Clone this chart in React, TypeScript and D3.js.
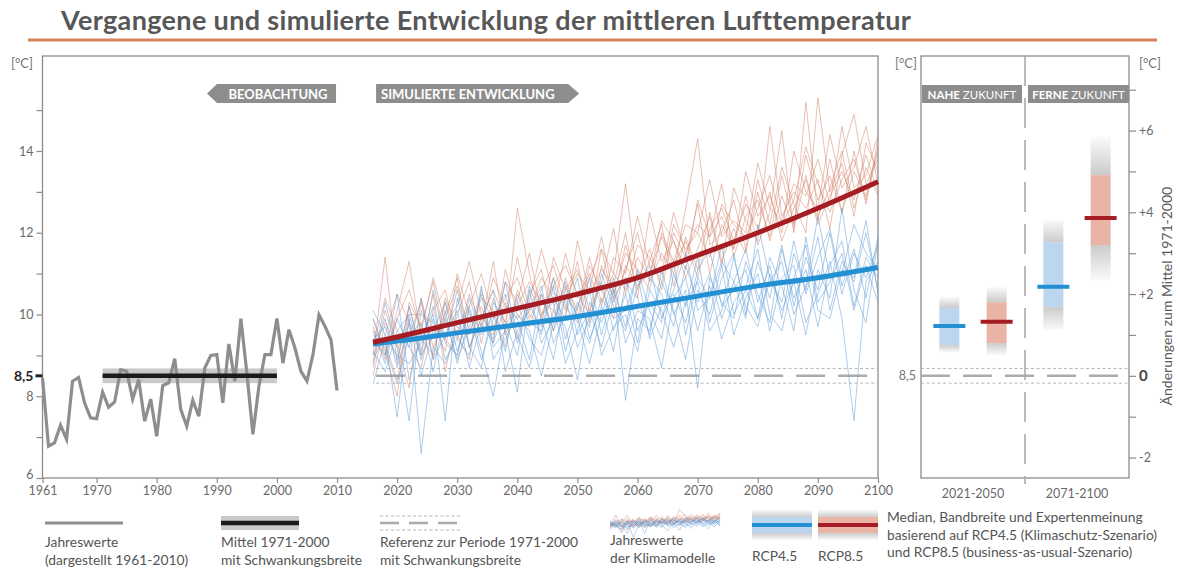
import { useEffect, useRef } from "react";
import * as d3 from "d3";

// observed annual means (1961-2010)
const obsYears = d3.range(1961, 2011);
const obsValues = [
  8.45, 6.78, 6.86, 7.29, 6.95, 8.37, 8.46, 7.84, 7.47, 7.45,
  8.1, 7.73, 7.86, 8.65, 8.61, 7.93, 8.41, 7.39, 7.93, 7.02,
  8.26, 8.33, 8.92, 7.68, 7.27, 7.9, 7.51, 8.69, 9.0, 9.02,
  7.84, 9.28, 8.37, 9.9, 8.57, 7.07, 8.24, 9.02, 9.02, 9.9,
  8.81, 9.63, 9.18, 8.61, 8.37, 9.02, 9.99, 9.71, 9.38, 8.14
];

const meanPeriod = [1971, 2000];
const refMean = 8.5;
const refSpread = 0.18;

// climate model runs, every 2nd year
const simYears = d3.range(2016, 2101, 2);
const rcp45Runs = [
  [9.0, 9.9, 8.7, 9.8, 8.5, 9.6, 10.3, 9.1, 10.1, 8.9, 9.9, 10.5, 9.3, 10.3, 9.5, 10.7, 9.1, 10.2, 10.9, 9.5, 10.6, 9.7, 11.1, 10.1, 9.4, 11.0, 10.2, 11.4, 9.8, 10.9, 11.5, 10.0, 11.3, 10.4, 11.7, 10.2, 11.4, 10.6, 12.0, 10.5, 11.5, 10.9, 11.7],
  [9.6, 8.8, 9.9, 9.2, 10.4, 8.9, 9.5, 10.1, 8.7, 9.8, 9.3, 10.2, 9.9, 8.9, 10.5, 9.6, 10.4, 9.2, 9.9, 10.8, 9.6, 10.5, 9.3, 10.9, 10.5, 9.7, 11.2, 10.3, 11.0, 9.9, 10.8, 11.6, 10.3, 11.2, 9.9, 11.5, 10.6, 11.9, 10.1, 11.3, 10.8, 12.0, 10.6],
  [8.3, 9.4, 7.5, 9.9, 6.6, 9.2, 8.8, 9.6, 10.2, 9.1, 8.0, 9.7, 10.3, 9.4, 9.0, 10.1, 9.7, 8.4, 10.3, 9.8, 10.7, 7.9, 9.9, 9.6, 10.8, 10.1, 8.9, 10.6, 10.0, 11.2, 9.5, 10.4, 11.0, 9.6, 10.9, 11.2, 9.8, 10.5, 11.3, 9.9, 7.4, 10.8, 11.3],
  [9.9, 9.0, 10.5, 8.4, 9.5, 10.0, 7.4, 10.4, 9.2, 9.9, 10.6, 8.6, 9.6, 10.1, 10.7, 9.3, 10.0, 10.9, 9.4, 10.2, 9.1, 10.8, 10.4, 9.5, 11.1, 10.0, 10.6, 8.2, 10.9, 10.3, 9.9, 11.3, 10.5, 9.8, 11.6, 10.4, 11.1, 9.7, 11.2, 11.8, 10.2, 11.4, 10.9],
  [8.8, 10.3, 9.2, 7.4, 10.1, 9.4, 9.9, 8.9, 9.7, 10.5, 9.2, 9.6, 8.1, 10.6, 9.3, 9.9, 10.8, 9.5, 10.1, 9.2, 10.4, 10.9, 9.6, 10.3, 9.8, 11.3, 9.5, 10.9, 10.4, 11.7, 10.0, 10.6, 9.9, 11.4, 10.7, 9.6, 11.9, 10.3, 10.8, 11.5, 10.1, 11.2, 10.3],
  [9.4, 9.7, 8.9, 10.2, 9.0, 10.6, 9.3, 9.0, 10.4, 9.5, 10.0, 9.1, 10.5, 9.8, 9.6, 10.9, 9.4, 10.3, 9.7, 11.0, 10.2, 9.6, 10.7, 11.2, 9.9, 10.6, 11.5, 10.1, 10.4, 11.3, 10.8, 9.9, 12.2, 10.9, 10.3, 11.8, 10.5, 11.4, 12.1, 10.7, 11.6, 10.4, 11.9],
  [9.1, 8.6, 9.6, 10.0, 8.9, 9.9, 9.4, 10.6, 9.2, 8.7, 10.3, 9.8, 9.0, 10.7, 9.9, 8.9, 10.5, 10.0, 9.3, 10.4, 9.9, 10.1, 11.0, 9.4, 10.2, 10.5, 9.8, 11.1, 11.6, 10.2, 10.6, 11.1, 9.9, 10.8, 11.3, 10.0, 10.7, 12.4, 10.9, 11.0, 12.2, 11.5, 11.1],
  [9.5, 9.2, 8.3, 9.5, 9.8, 8.6, 10.1, 8.8, 9.9, 10.0, 9.4, 10.8, 9.5, 8.7, 10.0, 10.3, 8.8, 9.6, 10.6, 9.0, 9.7, 10.0, 9.1, 10.6, 10.1, 9.2, 10.3, 10.8, 9.6, 10.1, 11.4, 10.2, 9.7, 11.0, 10.1, 10.8, 9.5, 11.1, 10.4, 12.6, 10.6, 9.8, 11.8],
  [10.1, 9.5, 9.0, 8.8, 9.3, 10.2, 8.9, 9.4, 9.0, 10.7, 8.9, 9.4, 10.0, 9.6, 8.5, 9.8, 10.6, 9.9, 8.8, 10.0, 10.9, 9.3, 10.1, 9.9, 8.7, 10.4, 10.9, 9.6, 10.7, 9.4, 10.3, 10.7, 11.6, 10.0, 9.6, 10.9, 11.7, 10.1, 9.9, 11.1, 10.9, 12.3, 10.5]
];
const rcp85Runs = [
  [9.0, 11.4, 8.8, 10.2, 9.1, 10.5, 8.6, 10.0, 10.8, 9.3, 10.4, 9.6, 12.6, 11.0, 9.9, 10.9, 10.1, 11.3, 9.8, 11.2, 10.4, 11.7, 10.6, 11.3, 12.2, 10.7, 11.9, 11.1, 12.5, 11.3, 12.1, 11.5, 13.0, 11.8, 12.9, 12.1, 13.4, 12.3, 13.8, 12.5, 13.5, 12.9, 14.1],
  [9.7, 8.9, 10.1, 11.3, 9.4, 9.0, 10.3, 9.5, 8.9, 10.6, 9.7, 10.3, 9.4, 10.5, 11.1, 9.8, 10.7, 10.1, 11.4, 10.3, 11.0, 13.2, 10.8, 11.6, 10.6, 12.0, 11.4, 12.7, 11.0, 12.2, 11.6, 12.9, 11.7, 12.5, 14.5, 12.0, 15.2, 12.4, 13.1, 14.0, 12.6, 13.6, 12.9],
  [8.5, 9.8, 9.3, 8.2, 10.4, 9.2, 9.9, 10.7, 9.6, 10.2, 9.3, 11.1, 10.0, 9.7, 10.6, 11.2, 10.2, 9.8, 10.9, 11.6, 10.3, 11.1, 12.0, 10.8, 11.5, 11.0, 12.6, 14.3, 11.7, 12.0, 12.8, 11.6, 13.3, 12.2, 13.6, 12.7, 12.0, 15.3, 13.0, 13.7, 12.4, 14.2, 13.5],
  [9.9, 9.1, 8.0, 10.3, 9.7, 10.8, 9.4, 9.0, 10.2, 11.0, 9.9, 10.4, 10.9, 10.0, 9.7, 11.4, 10.6, 11.1, 10.1, 10.8, 12.1, 10.5, 11.4, 10.9, 12.3, 11.8, 10.9, 11.6, 12.4, 11.2, 13.1, 12.3, 11.8, 14.6, 12.4, 13.0, 12.6, 13.3, 12.1, 13.9, 14.9, 13.2, 13.8],
  [9.2, 10.4, 9.6, 9.2, 8.7, 10.1, 10.6, 9.4, 10.5, 9.7, 11.3, 9.5, 10.2, 10.8, 10.3, 10.1, 11.5, 10.4, 11.0, 10.2, 11.4, 11.0, 12.4, 11.2, 11.0, 12.5, 11.5, 12.2, 11.9, 13.2, 11.4, 12.4, 12.8, 11.9, 13.4, 12.2, 13.9, 12.8, 13.4, 12.5, 14.0, 12.7, 14.3],
  [8.9, 9.5, 10.5, 9.8, 9.0, 9.5, 10.0, 10.9, 9.2, 9.9, 10.6, 9.8, 11.4, 10.1, 10.9, 10.4, 9.9, 11.8, 10.5, 11.1, 10.7, 12.0, 10.4, 12.5, 11.3, 11.8, 11.1, 12.8, 11.9, 12.4, 11.6, 13.5, 12.4, 12.9, 12.0, 14.0, 13.0, 12.6, 14.4, 13.1, 13.6, 14.6, 13.2],
  [9.4, 9.0, 9.9, 10.6, 9.6, 10.9, 9.8, 10.2, 11.3, 10.0, 9.5, 10.8, 10.3, 11.5, 10.0, 10.7, 11.2, 10.5, 10.0, 11.6, 11.0, 10.6, 11.7, 11.4, 10.8, 12.2, 11.6, 12.0, 13.3, 11.9, 12.3, 12.0, 13.7, 12.6, 12.3, 13.2, 12.9, 13.8, 12.7, 14.6, 13.1, 13.4, 14.4],
  [8.7, 10.1, 9.2, 9.5, 10.3, 8.9, 10.4, 9.7, 9.5, 10.4, 10.1, 9.2, 10.6, 9.9, 10.5, 9.6, 10.9, 9.9, 11.2, 10.6, 9.9, 11.2, 10.7, 11.0, 11.9, 11.2, 11.8, 10.9, 12.1, 12.6, 11.8, 12.7, 12.1, 13.0, 11.8, 12.6, 13.3, 12.2, 12.9, 13.5, 12.8, 13.9, 13.0],
  [9.6, 9.3, 8.4, 10.0, 10.0, 9.8, 9.1, 11.0, 10.0, 9.6, 10.9, 10.2, 9.9, 10.3, 11.6, 10.5, 10.4, 11.0, 10.6, 11.9, 10.5, 11.5, 11.1, 10.6, 12.0, 11.3, 12.2, 12.0, 11.4, 12.7, 12.2, 11.9, 12.6, 13.4, 12.2, 12.8, 14.1, 13.2, 12.5, 13.3, 13.8, 12.8, 14.0]
];

// ensemble medians
const medianYears = [2016, 2020, 2030, 2040, 2050, 2060, 2070, 2080, 2090, 2100];
const rcp45Median = [9.28, 9.35, 9.55, 9.75, 9.95, 10.2, 10.45, 10.7, 10.9, 11.15];
const rcp85Median = [9.32, 9.45, 9.8, 10.15, 10.5, 10.9, 11.45, 12.0, 12.6, 13.25];

// change vs 1971-2000: [expert low, band low, median, band high, expert high]
const periods = ["2021-2050", "2071-2100"];
const scenarios = ["RCP4.5", "RCP8.5"];
const rcp45Change = [[0.58, 0.75, 1.22, 1.66, 1.93], [1.12, 1.68, 2.18, 3.27, 3.81]];
const rcp85Change = [[0.51, 0.8, 1.32, 1.8, 2.17], [2.34, 3.2, 3.86, 4.91, 5.84]];

const yTickLabels = [6, 8, 10, 12, 14];
const xTickYears = [1961, 1970, 1980, 1990, 2000, 2010, 2020, 2030, 2040, 2050, 2060, 2070, 2080, 2090, 2100];
const changeTickLabels = [-2, 0, 2, 4, 6];

const FONT = "Lato, 'Open Sans', sans-serif";
const C45 = { run: "#5b9bd8", band: "#bdd6ef", median: "#2290d2" };
const C85 = { run: "#d4846a", band: "#e9b4a5", median: "#a51c22" };

export default function App() {
  const ref = useRef(null);

  useEffect(() => {
    const svg = d3.select(ref.current);
    svg.selectAll("*").remove();

    const width = 1180;
    const height = 568;
    svg.attr("width", width).attr("height", height).style("font-family", FONT);

    const x = d3.scaleLinear().domain([1961, 2100]).range([42.5, 878]);
    const y = d3.scaleLinear().domain([6, 14]).range([478, 151]);
    const yC = d3.scaleLinear().domain([-2.5, 5.5]).range([478, 151]);
    const top = 56;
    const bottom = y(6);

    const defs = svg.append("defs");
    const gTop = defs.append("linearGradient").attr("id", "fadeTop")
      .attr("x1", 0).attr("y1", 0).attr("x2", 0).attr("y2", 1);
    gTop.append("stop").attr("offset", 0).attr("stop-color", "#cbcbcb").attr("stop-opacity", 0.1);
    gTop.append("stop").attr("offset", 1).attr("stop-color", "#cbcbcb").attr("stop-opacity", 1);
    const gBot = defs.append("linearGradient").attr("id", "fadeBot")
      .attr("x1", 0).attr("y1", 0).attr("x2", 0).attr("y2", 1);
    gBot.append("stop").attr("offset", 0).attr("stop-color", "#cbcbcb").attr("stop-opacity", 1);
    gBot.append("stop").attr("offset", 1).attr("stop-color", "#cbcbcb").attr("stop-opacity", 0.1);

    // title
    svg.append("text")
      .attr("x", 61).attr("y", 30)
      .attr("font-size", 27).attr("font-weight", 700).attr("fill", "#575757")
      .attr("letter-spacing", 0.35)
      .text("Vergangene und simulierte Entwicklung der mittleren Lufttemperatur");
    svg.append("line")
      .attr("x1", 28).attr("x2", 1157).attr("y1", 40).attr("y2", 40)
      .attr("stroke", "#d9825f").attr("stroke-width", 3);

    // ---------- left panel ----------
    svg.append("rect")
      .attr("x", x(1961)).attr("y", top)
      .attr("width", x(2100) - x(1961)).attr("height", bottom - top)
      .attr("fill", "none").attr("stroke", "#8c8c8c").attr("stroke-width", 1.3);

    const yAxis = svg.append("g")
      .attr("transform", `translate(${x(1961)},0)`)
      .call(d3.axisLeft(y).tickValues(d3.range(6, 16)).tickSize(6)
        .tickFormat(d => (yTickLabels.includes(d) ? String(d) : "")));
    yAxis.select(".domain").remove();
    yAxis.selectAll("line").attr("stroke", "#8c8c8c").attr("stroke-width", 1.2);
    yAxis.selectAll("text").attr("fill", "#6a6a6a").attr("font-size", 12.5).attr("font-family", FONT)
      .filter(d => d === 6).attr("dy", "0.05em");

    svg.append("line")
      .attr("x1", x(1961) - 7).attr("x2", x(1961)).attr("y1", y(refMean)).attr("y2", y(refMean))
      .attr("stroke", "#222").attr("stroke-width", 3);
    svg.append("text")
      .attr("x", x(1961) - 9).attr("y", y(refMean)).attr("dy", "0.35em")
      .attr("text-anchor", "end").attr("font-size", 14).attr("font-weight", 700).attr("fill", "#222")
      .text("8,5");

    const xAxis = svg.append("g")
      .attr("transform", `translate(0,${bottom})`)
      .call(d3.axisBottom(x).tickValues(xTickYears).tickSize(5).tickFormat(d3.format("d")));
    xAxis.select(".domain").remove();
    xAxis.selectAll("line").attr("stroke", "#8c8c8c").attr("stroke-width", 1.2);
    xAxis.selectAll("text").attr("fill", "#6a6a6a").attr("font-size", 12.5).attr("font-family", FONT);

    svg.append("text").attr("x", 11).attr("y", 68)
      .attr("font-size", 13).attr("fill", "#777").text("[°C]");

    // period arrows
    const obsRight = x(2010) - 1;
    svg.append("polygon")
      .attr("points", [[obsRight - 129, 93.5], [obsRight - 119, 84], [obsRight, 84], [obsRight, 103], [obsRight - 119, 103]].join(" "))
      .attr("fill", "#8d8d8d");
    svg.append("text")
      .attr("x", obsRight - 58).attr("y", 98.5).attr("text-anchor", "middle")
      .attr("font-size", 13).attr("font-weight", 700).attr("fill", "#fff")
      .text("BEOBACHTUNG");
    const simLeft = x(2016.5);
    svg.append("polygon")
      .attr("points", [[simLeft, 84], [simLeft + 192, 84], [simLeft + 203, 93.5], [simLeft + 192, 103], [simLeft, 103]].join(" "))
      .attr("fill", "#8d8d8d");
    svg.append("text")
      .attr("x", simLeft + 5).attr("y", 98.5)
      .attr("font-size", 13).attr("font-weight", 700).attr("fill", "#fff")
      .text("SIMULIERTE ENTWICKLUNG");

    // mean 1971-2000 with spread
    svg.append("rect")
      .attr("x", x(meanPeriod[0])).attr("y", y(refMean + refSpread))
      .attr("width", x(meanPeriod[1]) - x(meanPeriod[0]))
      .attr("height", y(refMean - refSpread) - y(refMean + refSpread))
      .attr("fill", "#c9c9c9");

    // observed series
    const obsLine = d3.line().x((d, i) => x(obsYears[i])).y(d => y(d));
    svg.append("path")
      .datum(obsValues)
      .attr("d", obsLine)
      .attr("fill", "none").attr("stroke", "#8e8e8e").attr("stroke-width", 3.2);

    svg.append("line")
      .attr("x1", x(meanPeriod[0])).attr("x2", x(meanPeriod[1]))
      .attr("y1", y(refMean)).attr("y2", y(refMean))
      .attr("stroke", "#1b1b1b").attr("stroke-width", 4.5);

    // reference lines (simulation part)
    const drawRef = (x1, x2, yScale, base) => {
      [base + refSpread, base - refSpread].forEach(v => {
        svg.append("line")
          .attr("x1", x1).attr("x2", x2).attr("y1", yScale(v)).attr("y2", yScale(v))
          .attr("stroke", "#b5b5b5").attr("stroke-width", 1).attr("stroke-dasharray", "3,2.5");
      });
      svg.append("line")
        .attr("x1", x1).attr("x2", x2).attr("y1", yScale(base)).attr("y2", yScale(base))
        .attr("stroke", "#ababab").attr("stroke-width", 2.6).attr("stroke-dasharray", "29,13");
    };
    drawRef(simLeft, x(2100), y, refMean);

    // model runs
    const runLine = d3.line().x((d, i) => x(simYears[i])).y(d => y(d));
    rcp85Runs.forEach(run => {
      svg.append("path").datum(run).attr("d", runLine)
        .attr("fill", "none").attr("stroke", C85.run).attr("stroke-width", 1)
        .attr("stroke-opacity", 0.5);
    });
    rcp45Runs.forEach(run => {
      svg.append("path").datum(run).attr("d", runLine)
        .attr("fill", "none").attr("stroke", C45.run).attr("stroke-width", 1)
        .attr("stroke-opacity", 0.5);
    });

    const medLine = d3.line().curve(d3.curveMonotoneX)
      .x((d, i) => x(medianYears[i])).y(d => y(d));
    svg.append("path").datum(rcp45Median).attr("d", medLine)
      .attr("fill", "none").attr("stroke", C45.median).attr("stroke-width", 5);
    svg.append("path").datum(rcp85Median).attr("d", medLine)
      .attr("fill", "none").attr("stroke", C85.median).attr("stroke-width", 5);

    // ---------- right panel ----------
    const rL = 921;
    const rR = 1129;
    const xPeriod = d3.scaleBand().domain(periods).range([rL, rR]);
    const xScen = d3.scalePoint().domain(scenarios).range([0, xPeriod.bandwidth()]).padding(0.6);

    svg.append("rect")
      .attr("x", rL).attr("y", top).attr("width", rR - rL).attr("height", bottom - top)
      .attr("fill", "none").attr("stroke", "#8c8c8c").attr("stroke-width", 1.3);

    svg.append("line")
      .attr("x1", xPeriod(periods[1])).attr("x2", xPeriod(periods[1]))
      .attr("y1", top).attr("y2", bottom + 6)
      .attr("stroke", "#ababab").attr("stroke-width", 1.6).attr("stroke-dasharray", "30,12");

    drawRef(rL, rR, yC, 0);

    periods.forEach((p, i) => {
      const x0 = xPeriod(p) + (i === 0 ? 1 : 3);
      const x1 = xPeriod(p) + xPeriod.bandwidth() - (i === 0 ? 3 : 0);
      svg.append("rect")
        .attr("x", x0).attr("y", 85).attr("width", x1 - x0).attr("height", 18)
        .attr("fill", "#8d8d8d");
      const t = svg.append("text")
        .attr("x", (x0 + x1) / 2).attr("y", 98.5).attr("text-anchor", "middle")
        .attr("font-size", 11.5).attr("fill", "#fff");
      t.append("tspan").attr("font-weight", 700).text(i === 0 ? "NAHE" : "FERNE");
      t.append("tspan").text(" ZUKUNFT");

      svg.append("text")
        .attr("x", xPeriod(p) + xPeriod.bandwidth() / 2).attr("y", 498)
        .attr("text-anchor", "middle").attr("font-size", 12.5).attr("fill", "#6a6a6a")
        .text(p);
    });

    const drawRange = (cx, w, vals, col, scale, medW) => {
      const [eLo, bLo, med, bHi, eHi] = vals;
      svg.append("rect").attr("x", cx - w / 2).attr("width", w)
        .attr("y", scale(eHi)).attr("height", scale(bHi) - scale(eHi)).attr("fill", "url(#fadeTop)");
      svg.append("rect").attr("x", cx - w / 2).attr("width", w)
        .attr("y", scale(bHi)).attr("height", scale(bLo) - scale(bHi)).attr("fill", col.band);
      svg.append("rect").attr("x", cx - w / 2).attr("width", w)
        .attr("y", scale(bLo)).attr("height", scale(eLo) - scale(bLo)).attr("fill", "url(#fadeBot)");
      svg.append("line")
        .attr("x1", cx - medW / 2).attr("x2", cx + medW / 2)
        .attr("y1", scale(med)).attr("y2", scale(med))
        .attr("stroke", col.median).attr("stroke-width", 4);
    };

    periods.forEach((p, i) => {
      drawRange(xPeriod(p) + xScen("RCP4.5"), 20, rcp45Change[i], C45, yC, 32);
      drawRange(xPeriod(p) + xScen("RCP8.5"), 20, rcp85Change[i], C85, yC, 32);
    });

    const rAxis = svg.append("g")
      .attr("transform", `translate(${rR},0)`)
      .call(d3.axisRight(yC).tickValues(d3.range(-2, 8)).tickSize(7)
        .tickFormat(d => (changeTickLabels.includes(d) ? (d > 0 ? "+" + d : String(d)) : "")));
    rAxis.select(".domain").remove();
    rAxis.selectAll("line").attr("stroke", "#8c8c8c").attr("stroke-width", 1.2);
    rAxis.selectAll("text").attr("fill", "#6a6a6a").attr("font-size", 12.5).attr("font-family", FONT)
      .filter(d => d === 0).attr("font-size", 15).attr("font-weight", 700).attr("fill", "#444");

    svg.append("text").attr("x", rL - 5).attr("y", yC(0)).attr("dy", "0.35em")
      .attr("text-anchor", "end").attr("font-size", 12.5).attr("fill", "#777").text("8,5");
    svg.append("text").attr("x", rL - 4).attr("y", 68).attr("text-anchor", "end")
      .attr("font-size", 13).attr("fill", "#777").text("[°C]");
    svg.append("text").attr("x", rR + 10).attr("y", 68)
      .attr("font-size", 13).attr("fill", "#777").text("[°C]");
    svg.append("text")
      .attr("transform", `translate(1172,${yC(1.95)}) rotate(-90)`)
      .attr("text-anchor", "middle").attr("font-size", 14).attr("fill", "#5a5a5a")
      .text("Änderungen zum Mittel 1971-2000");

    // ---------- legend ----------
    const legText = (lx, ly, lines) => {
      lines.forEach((s, k) => {
        svg.append("text").attr("x", lx).attr("y", ly + k * 17.5)
          .attr("font-size", 13.8).attr("fill", "#555").text(s);
      });
    };
    const ly = 523;

    svg.append("line").attr("x1", 45).attr("x2", 123).attr("y1", ly).attr("y2", ly)
      .attr("stroke", "#8e8e8e").attr("stroke-width", 3.2);
    legText(45, 547, ["Jahreswerte", "(dargestellt 1961-2010)"]);

    svg.append("rect").attr("x", 221).attr("y", ly - 7).attr("width", 78).attr("height", 14)
      .attr("fill", "#c9c9c9");
    svg.append("line").attr("x1", 221).attr("x2", 299).attr("y1", ly).attr("y2", ly)
      .attr("stroke", "#1b1b1b").attr("stroke-width", 4.5);
    legText(221, 547, ["Mittel 1971-2000", "mit Schwankungsbreite"]);

    [ly - 7, ly + 7].forEach(v => {
      svg.append("line").attr("x1", 380).attr("x2", 461).attr("y1", v).attr("y2", v)
        .attr("stroke", "#b5b5b5").attr("stroke-width", 1).attr("stroke-dasharray", "3,2.5");
    });
    svg.append("line").attr("x1", 380).attr("x2", 461).attr("y1", ly).attr("y2", ly)
      .attr("stroke", "#ababab").attr("stroke-width", 2.6).attr("stroke-dasharray", "19,10");
    legText(380, 547, ["Referenz zur Periode 1971-2000", "mit Schwankungsbreite"]);

    // mini model-run glyph
    const xs = d3.scaleLinear().domain([2016, 2054]).range([610, 720]);
    const ys = d3.scaleLinear().domain([7.5, 11.8]).range([533, 513]);
    const miniLine = d3.line().x((d, i) => xs(simYears[i])).y(d => ys(d));
    [...rcp85Runs, ...rcp45Runs].forEach((run, k) => {
      svg.append("path").datum(run.slice(0, 20)).attr("d", miniLine)
        .attr("fill", "none").attr("stroke", k < rcp85Runs.length ? C85.run : C45.run)
        .attr("stroke-width", 0.7).attr("stroke-opacity", 0.6);
    });
    legText(610, 545, ["Jahreswerte", "der Klimamodelle"]);

    const ls = d3.scaleLinear().domain([0, 1]).range([540, 510]);
    const legendRange = [0, 0.23, 0.5, 0.77, 1];
    drawRange(782, 60, legendRange, C45, ls, 60);
    drawRange(848, 60, legendRange, C85, ls, 60);
    legText(752, 561, ["RCP4.5"]);
    legText(818, 561, ["RCP8.5"]);
    legText(887, 522, [
      "Median, Bandbreite und Expertenmeinung",
      "basierend auf RCP4.5 (Klimaschutz-Szenario)",
      "und RCP8.5 (business-as-usual-Szenario)"
    ]);
  }, []);

  return <svg ref={ref} style={{ position: "absolute", left: 0, top: 0 }}></svg>;
}
